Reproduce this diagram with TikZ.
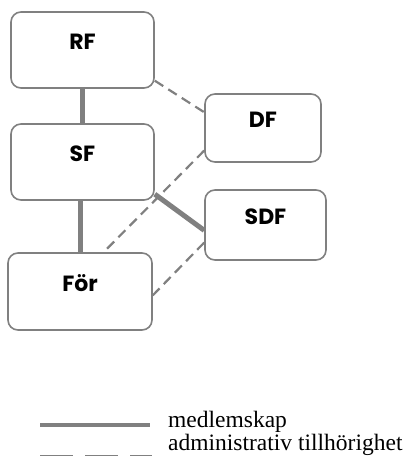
\documentclass[tikz,border=0pt]{standalone}
\usepackage{fontspec}
\usepackage{tikz}
\usetikzlibrary{positioning}
\newfontfamily\orgfont{Poppins}
\newfontfamily\legendfont{Liberation Serif}
\definecolor{linegray}{RGB}{128,128,128}
\tikzstyle{orgbox}=[draw=linegray, line width=1.6pt, rounded corners=10pt, anchor=center,
  font=\orgfont\bfseries\fontsize{22}{26}\selectfont, text height=16pt, text depth=17pt]
\tikzstyle{member}=[draw=linegray, line width=5pt]
\tikzstyle{admin}=[draw=linegray, line width=2.2pt, dash pattern=on 10pt off 6pt]
\tikzstyle{legendtext}=[anchor=base west, inner sep=0pt, font=\legendfont\fontsize{23.5}{26}\selectfont]
\newcommand{\orgnode}[5]{\node [orgbox, minimum width=#4, minimum height=#5] (#1) at (#2) {#3};}

\begin{document}
\begin{tikzpicture}[x=1pt, y=-1pt]
\useasboundingbox (0,0) rectangle (408,456);
\orgnode{RF}{82.5,50}{RF}{143pt}{76pt}
\orgnode{SF}{82.5,162}{SF}{143pt}{76pt}
\orgnode{FOR}{80,291.5}{För}{144pt}{77pt}
\orgnode{DF}{263,128}{DF}{116pt}{68pt}
\orgnode{SDF}{265.5,225}{SDF}{121pt}{70pt}
% medlemskap
\draw [member] (RF.south) -- (SF.north);
\draw [member] (FOR.north |- SF.south) -- (FOR.north);
\draw [member] (SF.-24) -- (SDF.185);
% administrativ tillhörighet
\draw [admin] (RF.-23) -- (DF.165);
\draw [admin] (DF.201) -- (FOR.59);
\draw [admin] (SDF.196) -- (FOR.-3);
% legend
\coordinate (m1) at (40,425);
\coordinate (m2) at (150,425);
\coordinate (a1) at (40,456);
\coordinate (a2) at (152,456);
\draw [member, line width=4pt] (m1) -- (m2);
\draw [admin, line width=3pt, dash pattern=on 33pt off 12pt] (a1) -- (a2);
\node [legendtext] (mtext) at (168,427) {medlemskap};
\node [legendtext] (atext) at (168,450) {administrativ tillhörighet};
\end{tikzpicture}
\end{document}
